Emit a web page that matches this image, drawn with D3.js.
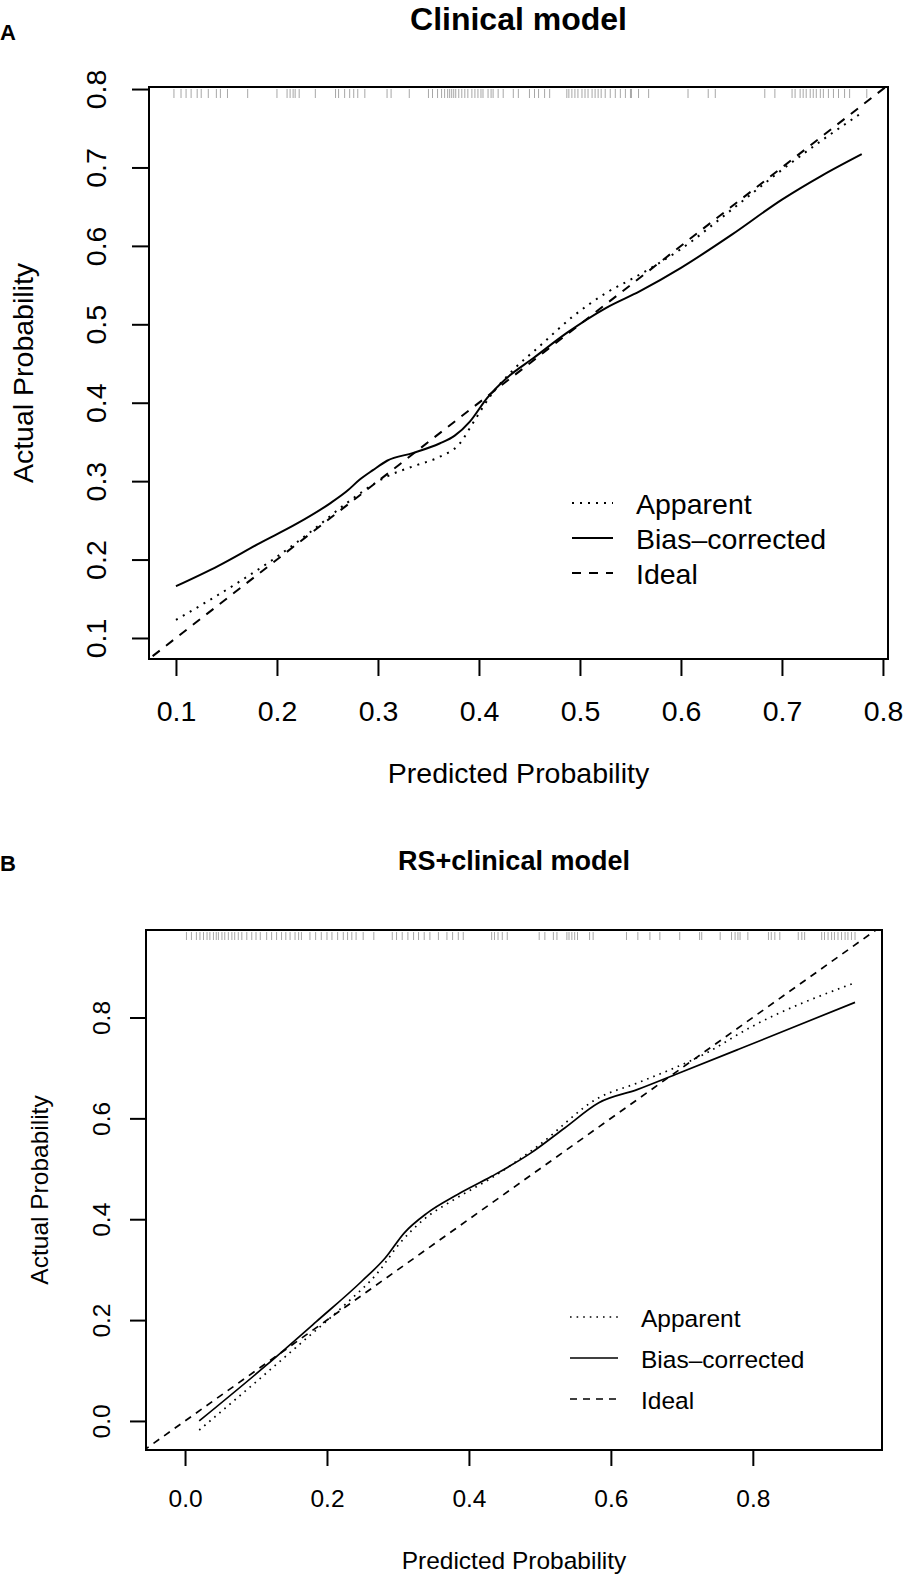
<!DOCTYPE html>
<html>
<head>
<meta charset="utf-8">
<script src="https://cdn.jsdelivr.net/npm/d3@7"></script>
<style>
body { margin: 0; background: #fff; }
svg { display: block; }
text { font-family: "Liberation Sans", Arial, Helvetica, sans-serif; fill: #000; }
</style>
</head>
<body>
<svg id="chart" width="907" height="1582"></svg>
<script>

// panel A - clinical model
var a_ticks = [0.1, 0.2, 0.3, 0.4, 0.5, 0.6, 0.7, 0.8]
var a_app_x = [0.100,0.163,0.196,0.236,0.269,0.309,0.335,0.361,0.381,0.394,0.411,0.434,0.460,0.493,0.526,0.553,0.600,0.650,0.700,0.740,0.777]
var a_app_y = [0.123,0.172,0.200,0.238,0.272,0.306,0.319,0.331,0.348,0.374,0.408,0.442,0.472,0.510,0.540,0.559,0.596,0.646,0.697,0.735,0.768]
var a_bias_x = [0.100,0.142,0.183,0.220,0.253,0.269,0.282,0.295,0.309,0.335,0.361,0.376,0.391,0.408,0.427,0.454,0.487,0.526,0.559,0.600,0.650,0.700,0.740,0.779]
var a_bias_y = [0.166,0.192,0.221,0.246,0.272,0.287,0.302,0.314,0.326,0.336,0.348,0.358,0.376,0.406,0.431,0.457,0.489,0.521,0.542,0.572,0.614,0.659,0.690,0.717]
var a_rug = [0.098,0.105,0.110,0.115,0.121,0.125,0.132,0.140,0.144,0.151,0.171,0.200,0.210,0.213,0.216,0.218,0.222,0.238,0.258,0.261,0.267,0.272,0.276,0.280,0.287,0.309,0.313,0.331,0.350,0.354,0.359,0.363,0.366,0.369,0.371,0.373,0.375,0.377,0.380,0.383,0.386,0.389,0.393,0.396,0.399,0.402,0.404,0.409,0.412,0.414,0.419,0.424,0.434,0.439,0.450,0.455,0.459,0.465,0.470,0.487,0.489,0.492,0.495,0.498,0.502,0.505,0.508,0.512,0.515,0.518,0.521,0.525,0.530,0.535,0.540,0.545,0.550,0.551,0.558,0.568,0.607,0.627,0.634,0.683,0.693,0.710,0.713,0.718,0.721,0.724,0.728,0.731,0.734,0.738,0.741,0.746,0.751,0.756,0.762,0.767,0.784]

// panel B - RS+clinical model
var b_ticks = [0.0, 0.2, 0.4, 0.6, 0.8]
var b_app_x = [0.020,0.098,0.163,0.228,0.271,0.303,0.336,0.379,0.432,0.497,0.583,0.637,0.735,0.796,0.944]
var b_app_y = [-0.018,0.075,0.154,0.234,0.293,0.353,0.399,0.439,0.482,0.545,0.641,0.670,0.730,0.780,0.869]
var b_bias_x = [0.020,0.115,0.185,0.249,0.282,0.309,0.341,0.384,0.432,0.487,0.535,0.583,0.637,0.691,0.780,0.944]
var b_bias_y = [0.000,0.111,0.197,0.277,0.323,0.373,0.412,0.449,0.485,0.531,0.581,0.631,0.657,0.687,0.737,0.830]
var b_rug = [0.002,0.009,0.016,0.021,0.026,0.031,0.035,0.040,0.044,0.047,0.052,0.056,0.061,0.066,0.070,0.075,0.080,0.087,0.094,0.100,0.106,0.115,0.122,0.129,0.136,0.142,0.148,0.155,0.160,0.164,0.176,0.184,0.192,0.200,0.207,0.215,0.223,0.229,0.235,0.241,0.251,0.266,0.292,0.298,0.306,0.314,0.322,0.329,0.337,0.345,0.357,0.369,0.377,0.385,0.392,0.432,0.436,0.441,0.447,0.454,0.499,0.507,0.519,0.524,0.538,0.541,0.545,0.549,0.553,0.570,0.575,0.622,0.638,0.655,0.669,0.697,0.725,0.728,0.754,0.770,0.775,0.779,0.782,0.793,0.822,0.826,0.831,0.838,0.864,0.869,0.873,0.897,0.901,0.906,0.911,0.915,0.920,0.925,0.930,0.934,0.939,0.944]

var legend_labels = ['Apparent', 'Bias\u2013corrected', 'Ideal']

function draw_calibration(svg, p) {

	var g = svg.append('g')

	var x = d3.scaleLinear().domain(p.xdom).range([p.left, p.right])
	var y = d3.scaleLinear().domain(p.ydom).range([p.bottom, p.top])

	var clip_id = 'clip-' + p.id
	svg.append('clipPath').attr('id', clip_id)
		.append('rect')
		.attr('x', p.left).attr('y', p.top)
		.attr('width', p.right - p.left).attr('height', p.bottom - p.top)

	// rug of predicted values
	g.append('g')
		.selectAll('line')
		.data(p.rug)
		.enter()
		.append('line')
		.attr('x1', function(d) {return x(d)})
		.attr('x2', function(d) {return x(d)})
		.attr('y1', p.top + 2)
		.attr('y2', p.top + p.rug_len)
		.attr('stroke', '#8a8a8a')
		.attr('stroke-opacity', 0.75)
		.attr('stroke-width', 1)

	// ideal line
	g.append('line')
		.attr('clip-path', 'url(#' + clip_id + ')')
		.attr('x1', x(-1)).attr('y1', y(-1))
		.attr('x2', x(2)).attr('y2', y(2))
		.attr('stroke', '#000')
		.attr('stroke-width', p.lw)
		.attr('stroke-dasharray', p.dash)

	var line = d3.line()
		.x(function(d) {return x(d[0])})
		.y(function(d) {return y(d[1])})
		.curve(d3.curveMonotoneX)

	g.append('path')
		.datum(d3.zip(p.app_x, p.app_y))
		.attr('d', line)
		.attr('fill', 'none')
		.attr('stroke', '#000')
		.attr('stroke-width', p.lw)
		.attr('stroke-dasharray', p.dot)

	g.append('path')
		.datum(d3.zip(p.bias_x, p.bias_y))
		.attr('d', line)
		.attr('fill', 'none')
		.attr('stroke', '#000')
		.attr('stroke-width', p.lw)

	// box
	g.append('rect')
		.attr('x', p.left).attr('y', p.top)
		.attr('width', p.right - p.left).attr('height', p.bottom - p.top)
		.attr('fill', 'none')
		.attr('stroke', '#000')
		.attr('stroke-width', 2)

	// axes
	var xaxis = g.append('g')
		.attr('transform', 'translate(0,' + p.bottom + ')')
		.call(d3.axisBottom(x).tickValues(p.ticks).tickSize(p.tick_len).tickPadding(p.xpad).tickFormat(d3.format('.1f')))
	var yaxis = g.append('g')
		.attr('transform', 'translate(' + p.left + ',0)')
		.call(d3.axisLeft(y).tickValues(p.ticks).tickSize(p.tick_len).tickFormat(d3.format('.1f')))

	xaxis.select('.domain').remove()
	yaxis.select('.domain').remove()
	xaxis.selectAll('line').attr('stroke', '#000').attr('stroke-width', 2)
	yaxis.selectAll('line').attr('stroke', '#000').attr('stroke-width', 2)
	xaxis.selectAll('text')
		.attr('font-size', p.fs)
		.attr('font-family', '"Liberation Sans", Arial, sans-serif')
		.attr('dy', null)
		.attr('y', p.xlab_y - p.bottom)
	yaxis.selectAll('text')
		.attr('font-size', p.fs)
		.attr('font-family', '"Liberation Sans", Arial, sans-serif')
		.attr('text-anchor', 'middle')
		.attr('dy', null)
		.attr('x', null)
		.attr('transform', 'translate(' + (p.ylab_x - p.left) + ',0) rotate(-90)')

	// titles
	svg.append('text')
		.attr('x', (p.left + p.right) / 2).attr('y', p.title_y)
		.attr('text-anchor', 'middle')
		.attr('font-size', p.title_fs)
		.attr('font-weight', 'bold')
		.text(p.title)

	svg.append('text')
		.attr('x', p.letter_x).attr('y', p.title_y + p.letter_dy)
		.attr('font-size', p.letter_fs)
		.attr('font-weight', 'bold')
		.text(p.letter)

	svg.append('text')
		.attr('x', (p.left + p.right) / 2).attr('y', p.xtitle_y)
		.attr('text-anchor', 'middle')
		.attr('font-size', p.fs)
		.text('Predicted Probability')

	svg.append('text')
		.attr('transform', 'translate(' + p.ytitle_x + ',' + ((p.top + p.bottom) / 2) + ') rotate(-90)')
		.attr('text-anchor', 'middle')
		.attr('font-size', p.fs)
		.text('Actual Probability')

	// legend
	var styles = [p.dot, null, p.dash]
	var leg = svg.append('g')
	legend_labels.forEach(function(lab, i) {
		var ly = p.leg_y + i * p.leg_step
		leg.append('line')
			.attr('x1', p.leg_x1).attr('x2', p.leg_x2)
			.attr('y1', ly).attr('y2', ly)
			.attr('stroke', '#000')
			.attr('stroke-width', p.lw)
			.attr('stroke-dasharray', styles[i])
		leg.append('text')
			.attr('x', p.leg_tx).attr('y', ly + p.leg_dy)
			.attr('font-size', p.fs)
			.text(lab)
	})
}

var svg = d3.select('#chart')

draw_calibration(svg, {
	id: 'a', letter: 'A', title: 'Clinical model',
	xdom: [0.0733, 0.805], ydom: [0.0732, 0.8026],
	left: 149, right: 888, top: 87, bottom: 659,
	ticks: a_ticks, app_x: a_app_x, app_y: a_app_y, bias_x: a_bias_x, bias_y: a_bias_y, rug: a_rug,
	rug_len: 11, lw: 2, dot: '2,6', dash: '9,8',
	fs: 28.5, tick_len: 17, xpad: 20, xlab_y: 721, ylab_x: 106,
	title_y: 30, title_fs: 32, letter_x: 0, letter_dy: 10, letter_fs: 22,
	xtitle_y: 783, ytitle_x: 33,
	leg_x1: 572, leg_x2: 613, leg_tx: 636, leg_y: 503, leg_step: 35, leg_dy: 11
})

draw_calibration(svg, {
	id: 'b', letter: 'B', title: 'RS+clinical model',
	xdom: [-0.055, 0.982], ydom: [-0.0576, 0.9735],
	left: 146, right: 882, top: 930, bottom: 1450,
	ticks: b_ticks, app_x: b_app_x, app_y: b_app_y, bias_x: b_bias_x, bias_y: b_bias_y, rug: b_rug,
	rug_len: 10, lw: 1.7, dot: '1.6,5', dash: '7,6',
	fs: 24.5, tick_len: 16, xpad: 20, xlab_y: 1507, ylab_x: 110,
	title_y: 870, title_fs: 27, letter_x: 0, letter_dy: 1, letter_fs: 22,
	xtitle_y: 1569, ytitle_x: 48,
	leg_x1: 570, leg_x2: 618, leg_tx: 641, leg_y: 1317, leg_step: 41, leg_dy: 10
})

</script>
</body>
</html>
